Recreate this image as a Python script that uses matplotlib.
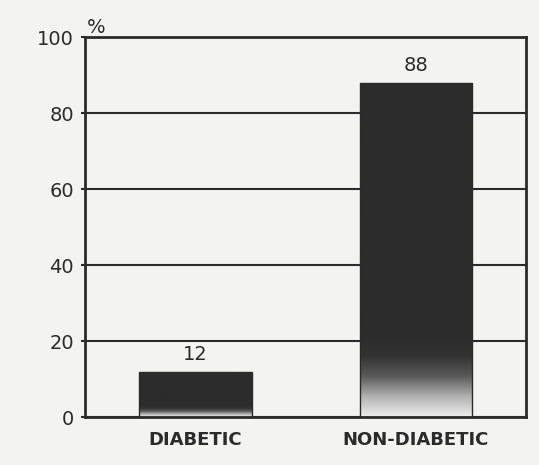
import numpy as np
import matplotlib
matplotlib.use("Agg")
import matplotlib.pyplot as plt
from matplotlib.colors import LinearSegmentedColormap

categories = ["DIABETIC", "NON-DIABETIC"]
values = [12, 88]
y_ticks = [0, 20, 40, 60, 80, 100]

INK = "#2b2b2b"
PAPER = "#f3f3f1"

fig = plt.figure(figsize=(5.39, 4.65), dpi=100, facecolor=PAPER)
ax = fig.add_axes([0.158, 0.103, 0.818, 0.817], facecolor=PAPER)

x = np.arange(len(categories))
bars = ax.bar(x, values, width=0.51, color="none", edgecolor=INK,
              linewidth=1.0, zorder=3)

# dark bars fading to light grey near the baseline
cmap = LinearSegmentedColormap.from_list(
    "fade", ["#ececec", "#b0b0b0", "#5a5a5a", "#333333", "#2c2c2c"])
for bar in bars:
    x0, w, h = bar.get_x(), bar.get_width(), bar.get_height()
    ys = np.linspace(0, 1, 200)
    frac = np.clip(ys * h / max(0.24 * h, 3.0), 0, 1)
    grad = np.tile(frac[:, None], (1, 2))
    im = ax.imshow(grad, extent=(x0, x0 + w, 0, h), origin="lower",
                   cmap=cmap, vmin=0, vmax=1, aspect="auto", zorder=2)
    im.set_clip_path(bar)

for xi, v in zip(x, values):
    ax.text(xi, v + 2.0, str(v), ha="center", va="bottom", fontsize=14,
            color=INK)

ax.set_xlim(-0.5, 1.5)
ax.set_ylim(0, 100)
ax.set_yticks(y_ticks)
ax.set_yticklabels([str(t) for t in y_ticks], fontsize=14, color=INK)
ax.set_xticks(x)
ax.set_xticklabels(categories, fontsize=13, color=INK, fontweight="bold")
ax.tick_params(axis="x", direction="in", length=4, width=1.2, color=INK, pad=10)
ax.tick_params(axis="y", direction="out", length=3, width=1.5, color=INK, pad=5)

ax.yaxis.grid(True, color=INK, linewidth=1.5)
ax.set_axisbelow(True)
for sp in ax.spines.values():
    sp.set_color(INK)
    sp.set_linewidth(2.0)

ax.text(0.005, 1.0, "%", transform=ax.transAxes, ha="left", va="bottom",
        fontsize=14, color=INK)

fig.savefig("out.png", dpi=100, facecolor=PAPER)
